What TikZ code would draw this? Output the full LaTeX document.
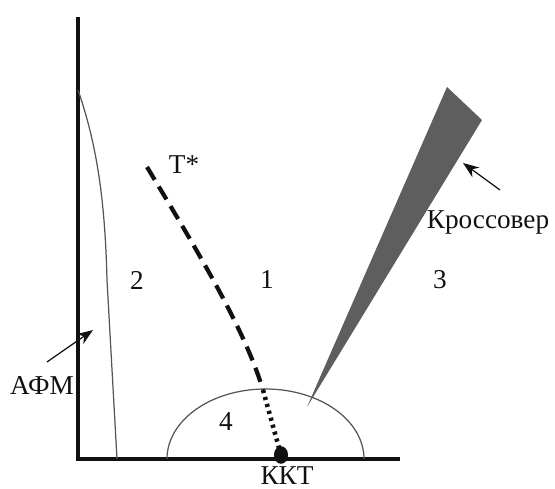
\documentclass[tikz,border=0pt]{standalone}
\usepackage{fontspec}
\setmainfont{Liberation Serif}
\usetikzlibrary{arrows.meta,shapes.geometric}
\definecolor{INK}{HTML}{111111}
\definecolor{PHASE}{HTML}{555555}
\definecolor{WEDGE}{HTML}{5E5E5E}

\begin{document}
\begin{tikzpicture}[
  x=0.02cm, y=-0.02cm,
  font=\fontsize{15.5}{18}\selectfont,
  lbl/.style={text=INK, inner sep=1pt},
  axis/.style={draw=INK, line width=1.9pt},
  phase/.style={draw=PHASE, line width=0.7pt},
  pointer/.style={-{Stealth[length=3.2mm, width=2.4mm]}, draw=INK, line width=0.7pt},
  pseudo/.style={draw=INK, line width=2.4pt, dash pattern=on 8.5pt off 4.5pt},
  quantum/.style={draw=INK, line width=2.6pt, dash pattern=on 1.8pt off 2.3pt},
]
\useasboundingbox (0,0) rectangle (555,489);

% ---- axes -----------------------------------------------------------------
\coordinate (origin) at (78,459);
\coordinate (ytop) at (78,17);
\coordinate (xend) at (400,459);
\draw[axis] (ytop) -- (origin) -- (xend);

% ---- antiferromagnetic boundary -------------------------------------------
\draw[phase] (78,90) .. controls (97,145) and (105,200) .. (107,280) -- (117,459);

% ---- dome of region 4 -----------------------------------------------------
\draw[phase] (167,459) arc[start angle=180, end angle=360, x radius=98.5, y radius=70];

% ---- crossover wedge ------------------------------------------------------
\fill[WEDGE] (307,407) -- (447,87) -- (482,120) -- cycle;

% ---- T* line and critical point -------------------------------------------
\coordinate (tbeg) at (147,167);
\coordinate (tdome) at (263,390);
\node[fill=INK, ellipse, inner sep=0pt, minimum width=8pt, minimum height=10pt,
  draw=none] (qcp) at (281,455) {};
\draw[pseudo] (tbeg) .. controls (200,255) and (245,330) .. (tdome);
\draw[quantum] (tdome) -- (qcp.center);

% ---- labels ---------------------------------------------------------------
\node[lbl] (tstar) at (184,165) {T*};
\node[lbl] (r2) at (137,280) {2};
\node[lbl] (r1) at (267,280) {1};
\node[lbl] (r3) at (440,280) {3};
\node[lbl] (r4) at (226,422) {4};
\node[lbl, inner sep=0pt] (kkt) at (287,476) {ККТ};
\node[lbl] (afm) at (42,386) {АФМ};
\node[lbl] (cross) at (488,222) {Кроссовер};

% ---- pointers -------------------------------------------------------------
\coordinate (afmtail) at (47,362);
\coordinate (afmtip) at (93,330);
\draw[pointer] (afmtail) -- (afmtip);
\coordinate (crosstail) at (500,190);
\coordinate (crosstip) at (463,163);
\draw[pointer] (crosstail) -- (crosstip);

\end{tikzpicture}
\end{document}
